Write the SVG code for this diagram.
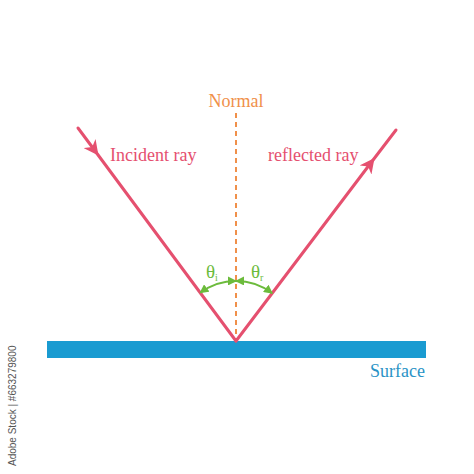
<svg xmlns="http://www.w3.org/2000/svg" width="474" height="474" viewBox="0 0 474 474">
<style>
.ray{fill:none;stroke:#e5506f;stroke-width:3;stroke-linecap:round}
.normal{stroke:#f0904a;stroke-width:2;stroke-dasharray:5 4}
.arc{fill:none;stroke:#6cbb3c;stroke-width:1.8}
.lbl{font-family:"Liberation Serif","Times New Roman",serif;font-size:18px}
.th{font-family:"Liberation Serif","Times New Roman",serif;font-size:19px}
</style>
<defs>
<marker id="ah" viewBox="0 0 10 10" refX="5" refY="5" markerWidth="5" markerHeight="5" orient="auto" markerUnits="strokeWidth">
<path d="M0,0 L10,5 L0,10 L3,5 z" fill="#e5506f"/>
</marker>
<marker id="ga" viewBox="0 0 10 10" refX="9" refY="5" markerWidth="5" markerHeight="5" orient="auto-start-reverse" markerUnits="strokeWidth">
<path d="M0,0 L10,5 L0,10 z" fill="#6cbb3c"/>
</marker>
</defs>
<rect width="474" height="474" fill="#ffffff"/>
<g id="surface">
<rect x="47" y="341" width="379" height="17" fill="#1a9bd1"/>
<text x="425" y="377" text-anchor="end" class="lbl" fill="#2a93c6">Surface</text>
</g>
<g id="normal">
<line x1="236" y1="113" x2="236" y2="341" class="normal"/>
<text x="236" y="107" text-anchor="middle" class="lbl" fill="#f0904a">Normal</text>
</g>
<g id="connectors">
<path id="incident" class="ray" d="M78,128 L94,149.5 L236,341" marker-mid="url(#ah)"/>
<path id="reflected" class="ray" d="M236,341 L370,164 L396,130" marker-mid="url(#ah)"/>
<path class="arc" d="M200.2,292.8 A60,60 0 0 1 236,281" marker-start="url(#ga)" marker-end="url(#ga)"/>
<path class="arc" d="M236,281 A60,60 0 0 1 272.2,293.2" marker-start="url(#ga)" marker-end="url(#ga)"/>
</g>
<g id="labels">
<text x="110" y="161" class="lbl" fill="#e5506f">Incident ray</text>
<text x="268" y="161" class="lbl" fill="#e5506f">reflected ray</text>
<text x="206" y="278" class="th" fill="#6cbb3c">θ<tspan font-size="10" dy="3">i</tspan></text>
<text x="251" y="278" class="th" fill="#6cbb3c">θ<tspan font-size="10" dy="3">r</tspan></text>
</g>
<text transform="translate(16,466) rotate(-90)" font-family="Liberation Sans,sans-serif" font-size="10" fill="#555">Adobe Stock | #663279800</text>
</svg>
